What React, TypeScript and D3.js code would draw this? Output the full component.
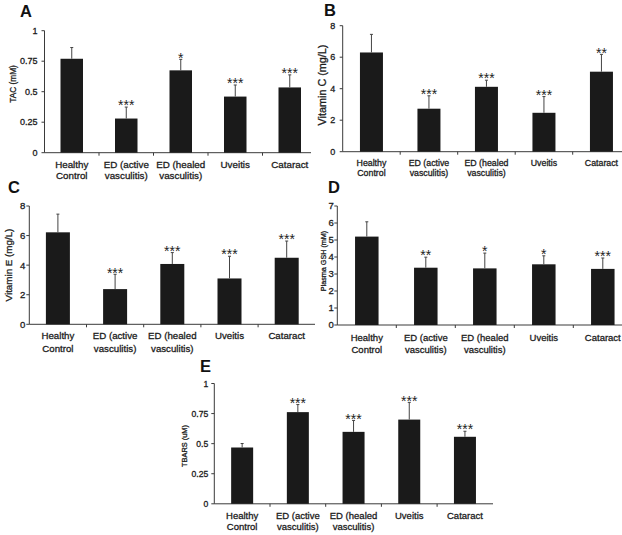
import React from "react";
import * as d3 from "d3";

const categories: string[][] = [
  ["Healthy", "Control"],
  ["ED (active", "vasculitis)"],
  ["ED (healed", "vasculitis)"],
  ["Uveitis"],
  ["Cataract"],
];

const tacValues = [0.77, 0.28, 0.675, 0.46, 0.535];
const tacErrors = [0.092, 0.094, 0.09, 0.095, 0.103];
const tacStars = ["", "***", "*", "***", "***"];
const tacTicks = [0, 0.25, 0.5, 0.75, 1];

const vitCValues = [6.3, 2.73, 4.12, 2.47, 5.08];
const vitCErrors = [1.15, 0.82, 0.42, 1.03, 1.1];
const vitCStars = ["", "***", "***", "***", "**"];
const vitCTicks = [0, 2, 4, 6, 8];

const vitEValues = [6.22, 2.38, 4.08, 3.1, 4.5];
const vitEErrors = [1.23, 1.0, 0.77, 1.5, 1.13];
const vitEStars = ["", "***", "***", "***", "***"];
const vitETicks = [0, 2, 4, 6, 8];

const gshValues = [5.2, 3.37, 3.33, 3.57, 3.3];
const gshErrors = [0.87, 0.62, 0.9, 0.5, 0.64];
const gshStars = ["", "**", "*", "*", "***"];
const gshTicks = [0, 1, 2, 3, 4, 5, 6, 7];

const tbarsValues = [0.468, 0.762, 0.598, 0.7, 0.557];
const tbarsErrors = [0.033, 0.063, 0.095, 0.143, 0.046];
const tbarsStars = ["", "***", "***", "***", "***"];
const tbarsTicks = [0, 0.25, 0.5, 0.75, 1];

const FONT = "'Liberation Sans', Arial, sans-serif";
const TEXT_FILL = "#1c1c1c";
const TEXT_STROKE = 0.3;

type PanelProps = {
  letter: string;
  letterX: number;
  letterY: number;
  ylabel: string;
  ylabelX: number;
  ylabelY: number;
  ylabelSize: number;
  axisX: number;
  yTop: number;
  yBot: number;
  band: number;
  barW: number;
  axisEnd: number;
  values: number[];
  errors: number[];
  stars: string[];
  ticks: number[];
  tickSize: number;
  tickGap: number;
  catSize: number;
  catOff1: number;
  catOff2: number;
};

function Panel(p: PanelProps) {
  const maxV = p.ticks[p.ticks.length - 1];
  const y = d3.scaleLinear().domain([0, maxV]).range([p.yBot, p.yTop]);
  const pad = 1 - p.barW / p.band;
  const x = d3
    .scaleBand<number>()
    .domain(d3.range(categories.length))
    .range([p.axisX, p.axisX + categories.length * p.band])
    .paddingInner(pad)
    .paddingOuter(pad / 2);
  const axisColor = "#3a3a3a";
  const textProps = { fill: TEXT_FILL, stroke: TEXT_FILL, strokeWidth: TEXT_STROKE };
  return (
    <g fontFamily={FONT}>
      <text x={p.letterX} y={p.letterY} fontSize={16.5} fontWeight="bold" fill="#111">
        {p.letter}
      </text>
      <text
        transform={`translate(${p.ylabelX},${p.ylabelY}) rotate(-90)`}
        textAnchor="middle"
        fontSize={p.ylabelSize}
        {...textProps}
      >
        {p.ylabel}
      </text>
      {/* y axis */}
      <line x1={p.axisX} x2={p.axisX} y1={p.yTop} y2={p.yBot} stroke={axisColor} strokeWidth={1} />
      {p.ticks.map((t) => (
        <g key={t}>
          <line x1={p.axisX - 3} x2={p.axisX} y1={y(t)} y2={y(t)} stroke={axisColor} strokeWidth={1} />
          <text
            x={p.axisX - p.tickGap}
            y={y(t)}
            dy="0.35em"
            textAnchor="end"
            fontSize={p.tickSize}
            {...textProps}
          >
            {String(t)}
          </text>
        </g>
      ))}
      {/* x axis */}
      <line x1={p.axisX} x2={p.axisEnd} y1={p.yBot} y2={p.yBot} stroke={axisColor} strokeWidth={1} />
      {d3.range(1, categories.length).map((i) => (
        <line
          key={i}
          x1={p.axisX + i * p.band}
          x2={p.axisX + i * p.band}
          y1={p.yBot}
          y2={p.yBot + 3}
          stroke={axisColor}
          strokeWidth={1}
        />
      ))}
      {/* bars */}
      {p.values.map((v, i) => {
        const bx = x(i)!;
        const cx = bx + x.bandwidth() / 2;
        const top = y(v + p.errors[i]);
        return (
          <g key={i}>
            <rect x={bx} y={y(v)} width={x.bandwidth()} height={p.yBot - y(v)} fill="#1a1a1a" />
            <line x1={cx} x2={cx} y1={y(v)} y2={top} stroke="#444" strokeWidth={1} />
            <line x1={cx - 1.5} x2={cx + 1.5} y1={top} y2={top} stroke="#444" strokeWidth={1} />
            {p.stars[i] && (
              <text x={cx} y={top + 3.2} textAnchor="middle" fontSize={14} fill="#222">
                {p.stars[i]}
              </text>
            )}
          </g>
        );
      })}
      {/* category labels */}
      {categories.map((lines, i) => {
        const cx = x(i)! + x.bandwidth() / 2;
        return (
          <text key={i} textAnchor="middle" fontSize={p.catSize} {...textProps}>
            {lines.map((l, j) => (
              <tspan key={j} x={cx} y={p.yBot + (j === 0 ? p.catOff1 : p.catOff2)}>
                {l}
              </tspan>
            ))}
          </text>
        );
      })}
    </g>
  );
}

export default function App() {
  return (
    <svg
      width={622}
      height={535}
      style={{ position: "absolute", left: 0, top: 0, display: "block", background: "#fff" }}
    >
      <rect width={622} height={535} fill="#fff" />
      <Panel
        letter="A"
        letterX={20}
        letterY={17}
        ylabel="TAC (mM)"
        ylabelX={16}
        ylabelY={84}
        ylabelSize={8.3}
        axisX={44.5}
        yTop={30.7}
        yBot={152.7}
        band={54.5}
        barW={22.5}
        axisEnd={311}
        values={tacValues}
        errors={tacErrors}
        stars={tacStars}
        ticks={tacTicks}
        tickSize={9}
        tickGap={7}
        catSize={9.8}
        catOff1={15}
        catOff2={25.8}
      />
      <Panel
        letter="B"
        letterX={324}
        letterY={16}
        ylabel="Vitamin C (mg/L)"
        ylabelX={326}
        ylabelY={85}
        ylabelSize={10.8}
        axisX={342.7}
        yTop={25.7}
        yBot={151.7}
        band={57.5}
        barW={23}
        axisEnd={622}
        values={vitCValues}
        errors={vitCErrors}
        stars={vitCStars}
        ticks={vitCTicks}
        tickSize={9}
        tickGap={7.5}
        catSize={8.8}
        catOff1={14.5}
        catOff2={24.2}
      />
      <Panel
        letter="C"
        letterX={8}
        letterY={193}
        ylabel="Vitamin E (mg/L)"
        ylabelX={11.5}
        ylabelY={265}
        ylabelSize={9.8}
        axisX={29.3}
        yTop={206}
        yBot={324.3}
        band={57.2}
        barW={24}
        axisEnd={315}
        values={vitEValues}
        errors={vitEErrors}
        stars={vitEStars}
        ticks={vitETicks}
        tickSize={9.6}
        tickGap={4}
        catSize={9.7}
        catOff1={15}
        catOff2={27.2}
      />
      <Panel
        letter="D"
        letterX={328}
        letterY={193}
        ylabel="Plasma GSH (mM)"
        ylabelX={326}
        ylabelY={261}
        ylabelSize={7.2}
        axisX={337.3}
        yTop={206}
        yBot={325}
        band={59}
        barW={23.5}
        axisEnd={622}
        values={gshValues}
        errors={gshErrors}
        stars={gshStars}
        ticks={gshTicks}
        tickSize={9.5}
        tickGap={3.5}
        catSize={9.5}
        catOff1={16}
        catOff2={27.7}
      />
      <Panel
        letter="E"
        letterX={200}
        letterY={372}
        ylabel="TBARS (uM)"
        ylabelX={186.5}
        ylabelY={446}
        ylabelSize={7.4}
        axisX={214.3}
        yTop={383.5}
        yBot={503.8}
        band={55.7}
        barW={22}
        axisEnd={493}
        values={tbarsValues}
        errors={tbarsErrors}
        stars={tbarsStars}
        ticks={tbarsTicks}
        tickSize={8.6}
        tickGap={6}
        catSize={9.5}
        catOff1={15.3}
        catOff2={26}
      />
    </svg>
  );
}
